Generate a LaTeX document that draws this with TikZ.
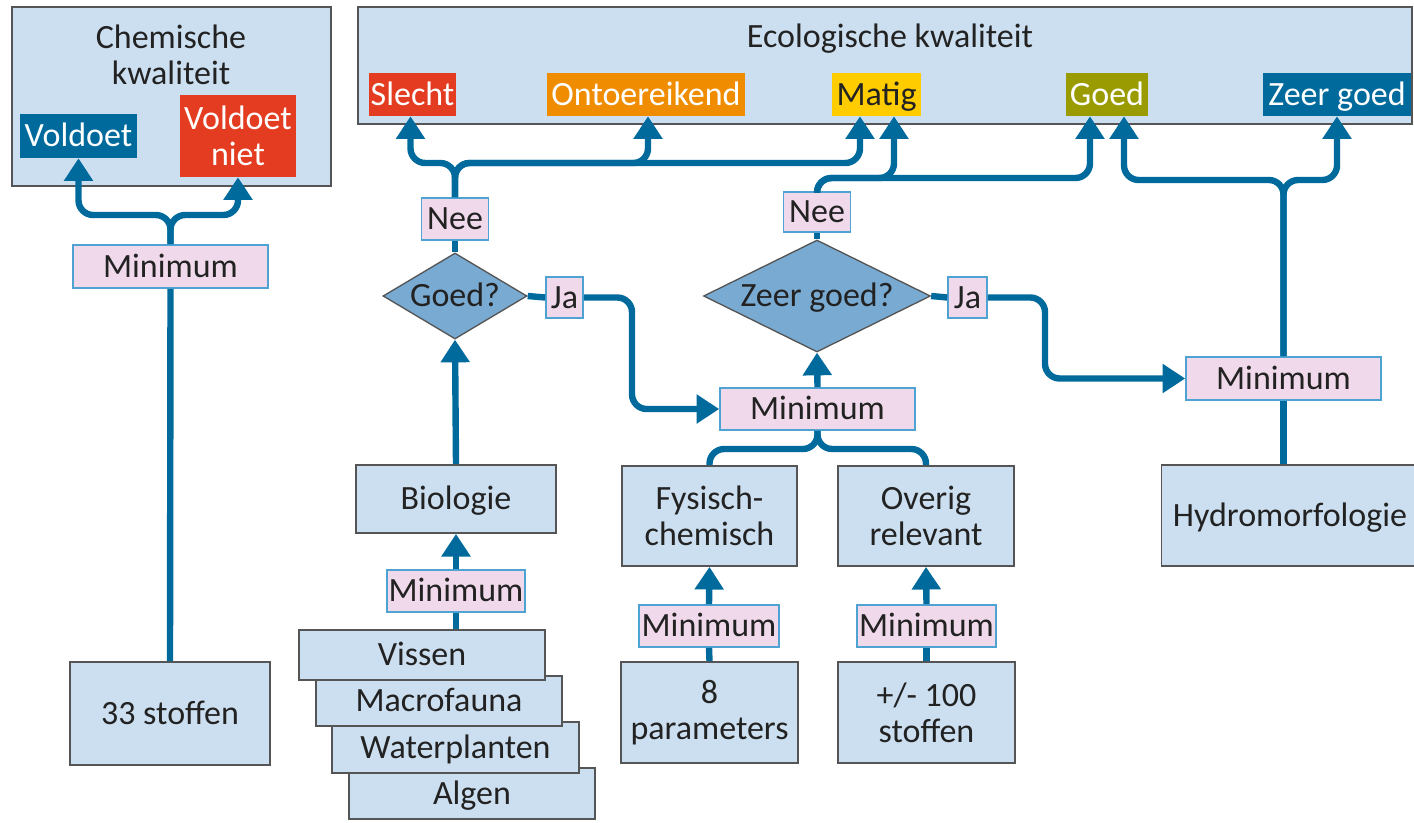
\documentclass[tikz,border=0pt]{standalone}
\usepackage{fontspec}
\setmainfont{Carlito}
\usetikzlibrary{shapes.geometric,arrows.meta,calc}
\definecolor{boxblue}{HTML}{CCDFF0}
\definecolor{pinkf}{HTML}{EFD9EA}
\definecolor{pinkd}{HTML}{4FA3D3}
\definecolor{flow}{HTML}{006A9C}
\definecolor{dkblue}{HTML}{006A9C}
\definecolor{redq}{HTML}{E43C21}
\definecolor{orangeq}{HTML}{EF8C00}
\definecolor{yellowq}{HTML}{FFCC00}
\definecolor{oliveq}{HTML}{9A9B00}
\definecolor{diaf}{HTML}{79AAD2}
\definecolor{bord}{HTML}{555555}
\definecolor{txt}{HTML}{222222}
\begin{document}
\begin{tikzpicture}[x=0.75pt,y=-0.75pt,
 every node/.style={inner sep=0pt, align=center, text=txt, font=\fontsize{25.5pt}{27pt}\selectfont},
 sl/.style={text height=17pt, text depth=1pt},
 bx/.style={draw=bord, line width=1.3pt, fill=boxblue},
 pk/.style={sl, draw=pinkd, line width=1.2pt, fill=pinkf},
 lab/.style={sl, text=white},
 dia/.style={sl, shape=diamond, draw=bord, line width=1pt, fill=diaf},
 con/.style={draw=flow, line width=4.8pt, rounded corners=11pt},
 arr/.style={con, -{Triangle[width=21pt,length=17pt]}}
]
\useasboundingbox (0,0) rectangle (1414,822);
% chemical quality
\node[bx, minimum width=239.25pt, minimum height=134.25pt] (chem) at (171.5,96.5) {};
\node (chemt) at (171,55) {Chemische\\kwaliteit};
\node[lab, fill=dkblue, minimum width=87.75pt, minimum height=33pt] (vold) at (78.5,136) {Voldoet};
\node[text=white, fill=redq, minimum width=87pt, minimum height=61.5pt] (voldn) at (238,136) {Voldoet\\niet};
\node[pk, minimum width=146.25pt, minimum height=32.25pt] (minchem) at (170.5,266.5) {Minimum};
\node[bx, sl, minimum width=150pt, minimum height=77.25pt] (st33) at (170,713.5) {33 stoffen};
% ecological quality
\node[bx, minimum width=790.5pt, minimum height=87.75pt] (eco) at (885,65.5) {};
\node[sl] (ecot) at (890,37) {Ecologische kwaliteit};
\node[lab, fill=redq, minimum width=65.25pt, minimum height=32.25pt] (slecht) at (412.5,94.5) {Slecht};
\node[lab, fill=orangeq, minimum width=148.5pt, minimum height=32.25pt] (ontoer) at (646,94.5) {Ontoereikend};
\node[sl, fill=yellowq, minimum width=66.75pt, minimum height=32.25pt] (matig) at (876.5,94.5) {Matig};
\node[lab, fill=oliveq, minimum width=61.5pt, minimum height=32.25pt] (goed) at (1107,94.5) {Goed};
\node[lab, fill=dkblue, minimum width=111pt, minimum height=32.25pt] (zgoed) at (1337,94.5) {Zeer goed};
% decisions
\node[pk, minimum width=50.25pt, minimum height=31.5pt] (nee1) at (455,219) {Nee};
\node[dia, minimum width=108pt, minimum height=64.5pt] (goedq) at (455,296) {\makebox[0pt]{Goed?}};
\node[pk, minimum width=27.75pt, minimum height=30.75pt] (ja1) at (564.5,297.5) {Ja};
\node[dia, minimum width=170.25pt, minimum height=84pt] (zgq) at (817,296) {\makebox[0pt]{Zeer goed?}};
\node[pk, minimum width=50.25pt, minimum height=30pt] (nee2) at (817,212) {Nee};
\node[pk, minimum width=29.25pt, minimum height=30.75pt] (ja2) at (967.5,297.5) {Ja};
\node[pk, minimum width=146.25pt, minimum height=31.5pt] (minmid) at (817.5,409) {Minimum};
\node[pk, minimum width=146.25pt, minimum height=32.25pt] (minhyd) at (1283.5,378.5) {Minimum};
\node[bx, sl, minimum width=192.75pt, minimum height=75.75pt] (hydro) at (1290,515.5) {Hydromorfologie};
% biology
\node[bx, sl, minimum width=150pt, minimum height=51pt] (bio) at (456,499) {Biologie};
\node[pk, minimum width=103.5pt, minimum height=31.5pt] (minbio) at (456,591) {Minimum};
\node[bx, sl, minimum width=184.5pt, minimum height=38pt] (algen) at (472,793.5) {Algen};
\node[bx, sl, minimum width=185pt, minimum height=38pt] (water) at (455.5,747.5) {Waterplanten};
\node[bx, sl, minimum width=184.5pt, minimum height=38pt] (macro) at (439,701) {Macrofauna};
\node[bx, sl, minimum width=184.5pt, minimum height=37.5pt] (vissen) at (422,655) {Vissen};
% physico-chemical and other
\node[bx, minimum width=131.25pt, minimum height=75pt] (fys) at (709.5,516) {Fysisch-\\chemisch};
\node[bx, minimum width=132pt, minimum height=75pt] (overig) at (926,516) {Overig\\relevant};
\node[pk, minimum width=105pt, minimum height=31.5pt] (minfys) at (709,626) {Minimum};
\node[pk, minimum width=104.25pt, minimum height=31.5pt] (minov) at (926.5,626) {Minimum};
\node[bx, minimum width=132.75pt, minimum height=75.75pt] (param) at (709.5,712.5) {8\\parameters};
\node[bx, minimum width=132.75pt, minimum height=75.75pt] (st100) at (926.5,712.5) {+/- 100\\stoffen};
% connectors
\draw[con] (st33.north) -- (minchem.south);
\draw[arr] (minchem.north) -- (170.5,215) -| (vold.south);
\draw[arr] (minchem.north) -- (170.5,215) -| (voldn.south);
\draw[arr] (nee1.north) -- (455,163) -| ($(slecht.south)+(-2,0)$);
\draw[arr] (nee1.north) -- (455,163) -| ($(ontoer.south)+(2,0)$);
\draw[arr] (nee1.north) -- (455,163) -| ($(matig.south)+(-16.5,0)$);
\draw[arr] (nee2.north) -- (817,178) -| ($(matig.south)+(17.5,0)$);
\draw[arr] (nee2.north) -- (817,178) -| ($(goed.south)+(-17,0)$);
\draw[arr] (minhyd.north) -- (1283.5,180) -| ($(goed.south)+(17,0)$);
\draw[arr] (minhyd.north) -- (1283.5,180) -| (zgoed.south);
\draw[con] (goedq.east) -- (ja1.west);
\draw[arr] (ja1.east) -- (632,297.5) |- (minmid.west);
\draw[con] (zgq.east) -- (ja2.west);
\draw[arr] (ja2.east) -- (1045,297.5) |- (minhyd.west);
\draw[con] (goedq.north) -- (nee1.south);
\draw[con] (zgq.north) -- (nee2.south);
\draw[arr] (minmid.north) -- (zgq.south);
\draw[arr] (bio.north) -- (goedq.south);
\draw[arr] (minbio.north) -- (bio.south);
\draw[con] (minbio.south) -- (minbio.south |- vissen.north);
\draw[con] (minmid.south) -- (817.5,449) -| (fys.north);
\draw[con] (minmid.south) -- (817.5,449) -| (overig.north);
\draw[arr] (minfys.north) -- (fys.south);
\draw[con] (param.north) -- (minfys.south);
\draw[arr] (minov.north) -- (overig.south);
\draw[con] (st100.north) -- (minov.south);
\draw[con] (minhyd.south) -- (minhyd.south |- hydro.north);
\end{tikzpicture}
\end{document}
